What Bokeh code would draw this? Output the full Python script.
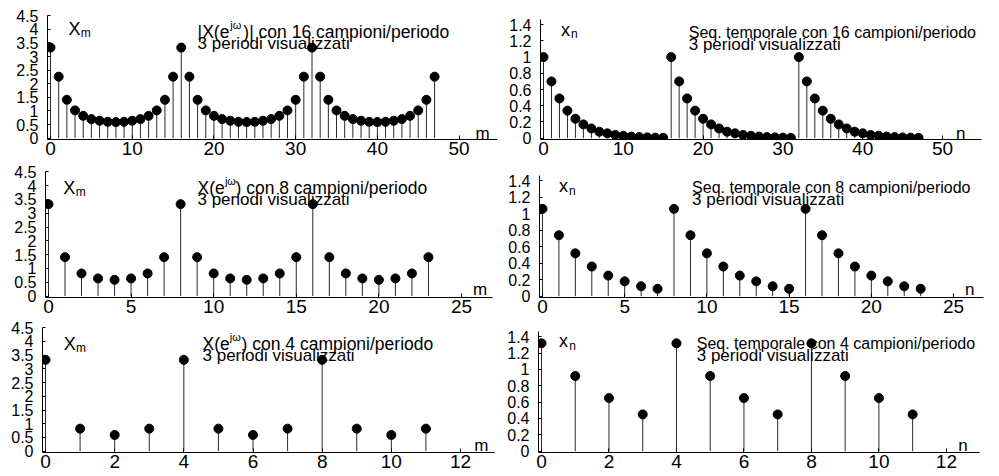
from bokeh.plotting import figure
from bokeh.models import Range1d, FixedTicker, NumeralTickFormatter, Label
from bokeh.layouts import column, row
from bokeh.embed import file_html
from bokeh.resources import INLINE

# ---------------- data ----------------
m16 = list(range(48))
X16 = [3.33, 2.26, 1.41, 1.02, 0.82, 0.70, 0.64, 0.60, 0.59, 0.60, 0.64, 0.70, 0.82, 1.02, 1.41, 2.26,
       3.33, 2.26, 1.41, 1.02, 0.82, 0.70, 0.64, 0.60, 0.59, 0.60, 0.64, 0.70, 0.82, 1.02, 1.41, 2.26,
       3.33, 2.26, 1.41, 1.02, 0.82, 0.70, 0.64, 0.60, 0.59, 0.60, 0.64, 0.70, 0.82, 1.02, 1.41, 2.26]
n16 = list(range(48))
x16 = [1.00, 0.70, 0.49, 0.34, 0.24, 0.17, 0.12, 0.08, 0.06, 0.04, 0.03, 0.02, 0.014, 0.01, 0.007, 0.005,
       1.00, 0.70, 0.49, 0.34, 0.24, 0.17, 0.12, 0.08, 0.06, 0.04, 0.03, 0.02, 0.014, 0.01, 0.007, 0.005,
       1.00, 0.70, 0.49, 0.34, 0.24, 0.17, 0.12, 0.08, 0.06, 0.04, 0.03, 0.02, 0.014, 0.01, 0.007, 0.005]
m8 = list(range(24))
X8 = [3.33, 1.41, 0.82, 0.64, 0.59, 0.64, 0.82, 1.41,
      3.33, 1.41, 0.82, 0.64, 0.59, 0.64, 0.82, 1.41,
      3.33, 1.41, 0.82, 0.64, 0.59, 0.64, 0.82, 1.41]
n8 = list(range(24))
x8 = [1.06, 0.74, 0.52, 0.36, 0.25, 0.18, 0.12, 0.09,
      1.06, 0.74, 0.52, 0.36, 0.25, 0.18, 0.12, 0.09,
      1.06, 0.74, 0.52, 0.36, 0.25, 0.18, 0.12, 0.09]
m4 = list(range(12))
X4 = [3.33, 0.82, 0.59, 0.82, 3.33, 0.82, 0.59, 0.82, 3.33, 0.82, 0.59, 0.82]
n4 = list(range(12))
x4 = [1.32, 0.92, 0.65, 0.45, 1.32, 0.92, 0.65, 0.45, 1.32, 0.92, 0.65, 0.45]

xticks16 = [0, 10, 20, 30, 40, 50]
xticks8 = [0, 5, 10, 15, 20, 25]
xticks4 = [0, 2, 4, 6, 8, 10, 12]
yticks_X = [0, 0.5, 1, 1.5, 2, 2.5, 3, 3.5, 4, 4.5]
yticks_x = [0, 0.2, 0.4, 0.6, 0.8, 1, 1.2, 1.4]

FONT = "Liberation Sans"
YR_L = (-0.05, 4.62)
YR_R = (-0.016, 1.55)
ROWS = [dict(h=163, top=12), dict(h=158, top=5), dict(h=155, top=3)]

panels = [
    # top-left
    dict(xs=m16, ys=X16, w=499, mbl=47, mbr=2, xr=(-0.37, 54.7), xb=54.8, xt=xticks16,
         yr=YR_L, yb=4.5, yt=yticks_X,
         sym=("X", 2.2, 4.0, "m", 3.7, 3.86),
         title=[("|X(e", 18.0, 3.91, 17.5), ("jω", 22.0, 4.16, 11), (")| con 16 campioni/periodo", 23.6, 3.91, 17.5)],
         line2=(18.0, 3.47), axl=("m", 52.0, 0.18)),
    # top-right
    dict(xs=n16, ys=x16, w=500, mbl=41, mbr=16, xr=(-0.376, 55.14), xb=54.9, xt=xticks16,
         yr=YR_R, yb=1.46, yt=yticks_x,
         sym=("x", 2.2, 1.34, "n", 3.45, 1.28),
         title=[("Seq. temporale con 16 campioni/periodo", 18.2, 1.30, 16)],
         line2=(18.2, 1.155), axl=("n", 51.7, 0.06)),
    # middle-left
    dict(xs=m8, ys=X8, w=499, mbl=45, mbr=2, xr=(-0.18, 27.18), xb=26.9, xt=xticks8,
         yr=YR_L, yb=4.5, yt=yticks_X,
         sym=("X", 0.9, 3.91, "m", 1.65, 3.77),
         title=[("X(e", 9.02, 3.91, 17.5), ("jω", 10.68, 4.16, 11), (") con 8 campioni/periodo", 11.32, 3.91, 17.5)],
         line2=(9.02, 3.5), axl=("m", 25.7, 0.25)),
    # middle-right
    dict(xs=n8, ys=x8, w=500, mbl=40, mbr=16, xr=(-0.18, 26.82), xb=26.9, xt=xticks8,
         yr=YR_R, yb=1.46, yt=yticks_x,
         sym=("x", 1.0, 1.34, "n", 1.62, 1.28),
         title=[("Seq. temporale con 8 campioni/periodo", 9.1, 1.32, 16)],
         line2=(9.1, 1.17), axl=("n", 25.7, 0.085)),
    # bottom-left
    dict(xs=m4, ys=X4, w=499, mbl=42, mbr=2, xr=(-0.087, 13.07), xb=12.98, xt=xticks4,
         yr=YR_L, yb=4.5, yt=yticks_X,
         sym=("X", 0.53, 3.91, "m", 0.88, 3.77),
         title=[("X(e", 4.54, 3.91, 17.5), ("jω", 5.33, 4.16, 11), (") con 4 campioni/periodo", 5.67, 3.91, 17.5)],
         line2=(4.54, 3.5), axl=("m", 12.4, 0.22)),
    # bottom-right
    dict(xs=n4, ys=x4, w=500, mbl=39, mbr=16, xr=(-0.089, 13.1), xb=12.98, xt=xticks4,
         yr=YR_R, yb=1.46, yt=yticks_x,
         sym=("x", 0.52, 1.35, "n", 0.82, 1.29),
         title=[("Seq. temporale con 4 campioni/periodo", 4.6, 1.32, 16)],
         line2=(4.6, 1.17), axl=("n", 12.35, 0.075)),
]


def lab(p, text, x, y, size):
    p.add_layout(Label(x=x, y=y, text=text, text_font=FONT, text_font_size=f"{size}px",
                       text_color="black", text_align="left", text_baseline="alphabetic"))


figs = []
for i, cfg in enumerate(panels):
    r = ROWS[i // 2]
    p = figure(width=cfg["w"], height=r["h"], output_backend="svg", toolbar_location=None,
               x_range=Range1d(*cfg["xr"]), y_range=Range1d(*cfg["yr"]),
               min_border_left=cfg["mbl"], min_border_right=cfg["mbr"],
               min_border_top=r["top"], min_border_bottom=24)
    p.outline_line_color = None
    p.grid.visible = False
    p.background_fill_color = "white"
    p.border_fill_color = "white"

    p.segment(x0=cfg["xs"], y0=[0] * len(cfg["xs"]), x1=cfg["xs"], y1=cfg["ys"],
              line_color="#2a2a2a", line_width=1)
    p.scatter(cfg["xs"], cfg["ys"], size=9, color="black")

    xa = p.xaxis[0]
    xa.bounds = (cfg["xr"][0], cfg["xb"])
    xa.ticker = FixedTicker(ticks=cfg["xt"])
    xa.minor_tick_line_color = None
    xa.major_tick_in = 4
    xa.major_tick_out = 0
    xa.axis_line_color = "black"
    xa.major_tick_line_color = "black"
    xa.major_label_text_font = FONT
    xa.major_label_text_font_size = "19px"
    xa.major_label_text_color = "black"
    xa.major_label_standoff = 2

    ya = p.yaxis[0]
    ya.bounds = (cfg["yr"][0], cfg["yb"])
    ya.ticker = FixedTicker(ticks=cfg["yt"])
    ya.formatter = NumeralTickFormatter(format="0.[0]")
    ya.minor_tick_line_color = None
    ya.major_tick_in = 3
    ya.major_tick_out = 0
    ya.axis_line_color = "black"
    ya.major_tick_line_color = "black"
    ya.major_label_text_font = FONT
    ya.major_label_text_font_size = "16px"
    ya.major_label_text_color = "black"
    ya.major_label_standoff = 9

    s = cfg["sym"]
    lab(p, s[0], s[1], s[2], 18)
    lab(p, s[3], s[4], s[5], 12)
    for t, x, y, sz in cfg["title"]:
        lab(p, t, x, y, sz)
    lab(p, "3 periodi visualizzati", cfg["line2"][0], cfg["line2"][1], 17)
    a = cfg["axl"]
    lab(p, a[0], a[1], a[2], 17)
    figs.append(p)

layout = column(row(figs[0], figs[1]), row(figs[2], figs[3]), row(figs[4], figs[5]))

with open("out.html", "w") as f:
    f.write(file_html(layout, INLINE))
